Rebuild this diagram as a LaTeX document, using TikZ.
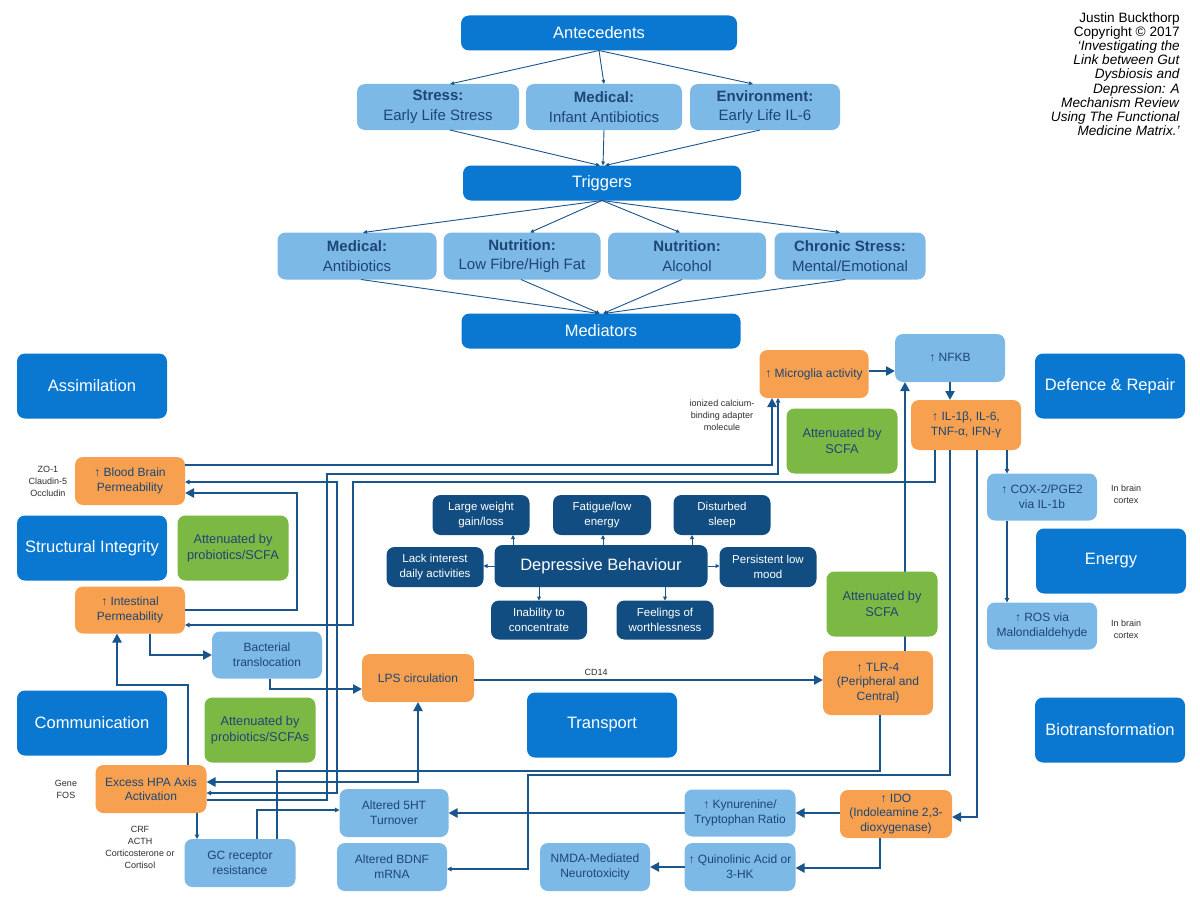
\documentclass[tikz,border=0pt]{standalone}
\usepackage{fontspec}
\setmainfont{Liberation Sans}
\usetikzlibrary{arrows.meta}
\definecolor{catblue}{RGB}{10,120,208}
\definecolor{navyfill}{RGB}{17,77,128}
\definecolor{lbluefill}{RGB}{125,185,230}
\definecolor{orngfill}{RGB}{246,160,80}
\definecolor{greenfill}{RGB}{124,185,68}
\definecolor{txtblue}{RGB}{30,70,115}
\definecolor{linecol}{RGB}{26,86,140}
\definecolor{notegray}{RGB}{45,45,45}
\newcommand\myfs[2]{\fontsize{#1}{#2}\selectfont}
\begin{document}
\begin{tikzpicture}[x=1pt,y=-1pt,
  bx/.style={rounded corners=8pt, align=center, inner sep=1pt, outer sep=0pt},
  catbox/.style={bx, fill=catblue, text=white, font=\myfs{16.5}{19}, minimum width=150, minimum height=65},
  topbox/.style={bx, fill=catblue, text=white, font=\myfs{16.5}{19}, minimum height=35},
  antebox/.style={bx, fill=lbluefill, text=txtblue, font=\myfs{15}{19.5}, minimum height=46},
  ornbox/.style={bx, fill=orngfill, text=txtblue, font=\myfs{12}{14.5}, minimum width=110, minimum height=48},
  lblbox/.style={bx, fill=lbluefill, text=txtblue, font=\myfs{12}{15}, minimum width=110, minimum height=48},
  grnbox/.style={bx, fill=greenfill, text=txtblue, font=\myfs{12.8}{16}, minimum width=111, minimum height=65},
  depbox/.style={bx, fill=navyfill, text=white, font=\myfs{11.5}{14.5}, minimum width=97, minimum height=40},
  notetxt/.style={align=center, font=\myfs{9}{12}, text=notegray, inner sep=0pt},
  thk/.style={draw=linecol, line width=2.6pt, -{Triangle[length=9pt,width=9pt]}},
  thkboth/.style={draw=linecol, line width=2.6pt, {Triangle[length=9pt,width=9pt]}-{Triangle[length=9pt,width=9pt]}},
  thn/.style={draw=linecol, line width=1.1pt, -{Triangle[length=4.5pt,width=4.5pt]}},
  thnboth/.style={draw=linecol, line width=1.1pt, {Triangle[length=4.5pt,width=4.5pt]}-{Triangle[length=4.5pt,width=4.5pt]}},
  thnplain/.style={draw=linecol, line width=1.1pt},
  toparr/.style={draw=linecol, line width=0.9pt, -{Triangle[length=4pt,width=3.5pt]}},
  deparr/.style={draw=linecol, line width=1pt, -{Triangle[length=4pt,width=4pt]}}
]
\useasboundingbox (0,0) rectangle (1200,899);
\fill[white] (0,0) rectangle (1200,899);

% ---------- top hierarchy ----------
\node[topbox, minimum width=276] (ant) at (599,33) {Antecedents};
\node[antebox, minimum width=162] (stress) at (438,107) {\textbf{Stress:}\\Early Life Stress};
\node[antebox, minimum width=156] (medinf) at (604,107) {\textbf{Medical:}\\Infant Antibiotics};
\node[antebox, minimum width=150] (env) at (765,107) {\textbf{Environment:}\\Early Life IL-6};
\node[topbox, minimum width=278] (trig) at (602,183) {Triggers};
\node[antebox, minimum width=159, minimum height=47] (med2) at (357,256) {\textbf{Medical:}\\Antibiotics};
\node[antebox, minimum width=157, minimum height=47] (nutlf) at (522,256) {\textbf{Nutrition:}\\Low Fibre/High Fat};
\node[antebox, minimum width=158, minimum height=47] (nutal) at (687,256) {\textbf{Nutrition:}\\Alcohol};
\node[antebox, minimum width=151, minimum height=47] (chron) at (850,256) {\textbf{Chronic Stress:}\\Mental/Emotional};
\node[topbox, minimum width=279] (medi) at (601,331) {Mediators};

\draw[toparr] (ant.south) -- (stress.north -| 450,0);
\draw[toparr] (ant.south) -- (medinf.north);
\draw[toparr] (ant.south) -- (env.north -| 753,0);
\draw[toparr] (stress.south -| 450,0) -- (trig.north -| 600,0);
\draw[toparr] (medinf.south) -- (trig.north -| 603,0);
\draw[toparr] (env.south -| 760,0) -- (trig.north -| 605,0);
\draw[toparr] (trig.south) -- (med2.north -| 363,0);
\draw[toparr] (trig.south) -- (nutlf.north -| 530,0);
\draw[toparr] (trig.south) -- (nutal.north -| 680,0);
\draw[toparr] (trig.south) -- (chron.north -| 840,0);
\draw[toparr] (med2.south -| 361,0) -- (medi.north -| 599,0);
\draw[toparr] (nutlf.south -| 521,0) -- (medi.north -| 600,0);
\draw[toparr] (nutal.south -| 682,0) -- (medi.north -| 603,0);
\draw[toparr] (chron.south -| 845,0) -- (medi.north -| 604,0);

% ---------- copyright ----------
\node[anchor=north east, align=right, font=\myfs{13.6}{14.2}, inner sep=0pt] (copy) at (1180,12)
 {Justin Buckthorp\\Copyright © 2017\\\textit{‘Investigating the}\\\textit{Link between Gut}\\\textit{Dysbiosis and}\\\textit{Depression: A}\\\textit{Mechanism Review}\\\textit{Using The Functional}\\\textit{Medicine Matrix.’}};

% ---------- category boxes ----------
\node[catbox] (assim) at (92,386) {Assimilation};
\node[catbox] (defr) at (1110,386) {Defence \& Repair};
\node[catbox] (struct) at (92,548) {Structural Integrity};
\node[catbox] (energy) at (1111,561) {Energy};
\node[catbox] (comm) at (92,723) {Communication};
\node[catbox] (transp) at (602,725) {Transport};
\node[catbox] (biot) at (1110,730) {Biotransformation};

% ---------- orange ----------
\node[ornbox] (bbp) at (130,481) {↑ Blood Brain\\Permeability};
\node[ornbox, minimum height=47] (ip) at (130,610) {↑ Intestinal\\Permeability};
\node[ornbox, minimum width=111] (hpa) at (151,789) {Excess HPA Axis\\Activation};
\node[ornbox, minimum width=112] (lps) at (418,678) {LPS circulation};
\node[ornbox, minimum width=109] (micro) at (814,374) {↑ Microglia activity};
\node[ornbox, minimum height=50] (il) at (966,425) {↑ IL-1β, IL-6,\\TNF-α, IFN-γ};
\node[ornbox, minimum height=64] (tlr) at (878,683) {↑ TLR-4\\(Peripheral and\\Central)};
\node[ornbox, minimum width=112] (ido) at (896,814) {↑ IDO\\(Indoleamine 2,3-\\dioxygenase)};

% ---------- light blue ----------
\node[lblbox] (nfkb) at (950,358) {↑ NFKB};
\node[lblbox, minimum height=47] (bt) at (267,655) {Bacterial\\translocation};
\node[lblbox, minimum height=47] (cox) at (1042,497) {↑ COX-2/PGE2\\via IL-1b};
\node[lblbox, minimum height=47] (ros) at (1042,626) {↑ ROS via\\Malondialdehyde};
\node[lblbox, minimum width=109] (ht) at (394,813) {Altered 5HT\\Turnover};
\node[lblbox] (bdnf) at (392,867) {Altered BDNF\\mRNA};
\node[lblbox, minimum width=111] (gc) at (240,863) {GC receptor\\resistance};
\node[lblbox, minimum width=111, minimum height=47] (kyn) at (740,813) {↑ Kynurenine/\\Tryptophan Ratio};
\node[lblbox, minimum width=111] (quin) at (740,867) {↑ Quinolinic Acid or\\3-HK};
\node[lblbox] (nmda) at (595,867) {NMDA-Mediated\\Neurotoxicity};

% ---------- green ----------
\node[grnbox] (att1) at (233,548) {Attenuated by\\probiotics/SCFA};
\node[grnbox] (att2) at (260,730) {Attenuated by\\probiotics/SCFAs};
\node[grnbox] (att3) at (842,441) {Attenuated by\\SCFA};

% ---------- depressive behaviour ----------
\node[bx, fill=navyfill, text=white, font=\myfs{16.5}{19}, minimum width=213, minimum height=42] (db) at (601,566) {Depressive Behaviour};
\node[depbox] (dw) at (481,515) {Large weight\\gain/loss};
\node[depbox, minimum width=98] (df) at (602,515) {Fatigue/low\\energy};
\node[depbox] (ds) at (722,515) {Disturbed\\sleep};
\node[depbox] (dl) at (435,567) {Lack interest\\daily activities};
\node[depbox] (dp) at (768,567) {Persistent low\\mood};
\node[depbox, minimum width=96, minimum height=39] (di) at (539,620) {Inability to\\concentrate};
\node[depbox, minimum height=39] (dfw) at (665,620) {Feelings of\\worthlessness};
\draw[deparr] (db.north -| 513,0) -- (dw.south -| 513,0);
\draw[deparr] (db.north -| 603,0) -- (df.south -| 603,0);
\draw[deparr] (db.north -| 692,0) -- (ds.south -| 692,0);
\draw[deparr] (db.west) -- (dl.east |- db.west);
\draw[deparr] (db.east) -- (dp.west |- db.east);
\draw[deparr] (db.south -| 539,0) -- (di.north -| 539,0);
\draw[deparr] (db.south -| 665,0) -- (dfw.north -| 665,0);

% ---------- notes ----------
\node[notetxt] (zo) at (48,481) {ZO-1\\Claudin-5\\Occludin};
\node[notetxt] (gene) at (66,789) {Gene\\FOS};
\node[notetxt] (crf) at (140,847) {CRF\\ACTH\\Corticosterone or\\Cortisol};
\node[notetxt] (ion) at (722,415) {ionized calcium-\\binding adapter\\molecule};
\node[notetxt] (inb1) at (1126,494) {In brain\\cortex};
\node[notetxt] (inb2) at (1126,629) {In brain\\cortex};

% ---------- thin connectors ----------
\draw[thn] (il.south -| 1007,0) -- (cox.north -| 1007,0);
\draw[thn] (cox.south -| 1007,0) -- (ros.north -| 1007,0);
\draw[thn] (il.south -| 935,0) |- (353,482) |- (ip.east |- 0,625);
\draw[thnboth] (bbp.east |- 0,482) -| (337,793) -- (hpa.east |- 0,793);
\draw[thn] (hpa.east |- 0,800) -| (327,474) -| (micro.south -| 778,0);
\draw[thn] (hpa.south -| 197,0) -- (gc.north -| 197,0);
\draw[thn] (gc.north -| 257,0) |- (ht.west |- 0,810);
\draw[thnplain] (gc.north -| 277,0) |- (880,771) -- (tlr.south -| 880,0);
\draw[thn] (il.south -| 950,0) |- (528,775) |- (bdnf.east |- 0,869);

% ---------- thick connectors ----------
\draw[thk] (bbp.east |- 0,465) -| (micro.south -| 772,0);
\draw[thk] (ip.east |- 0,610) -- (297,610) |- (bbp.east |- 0,493);
\draw[thk] (ip.south -| 150,0) |- (bt.west);
\draw[thk] (hpa.north -| 188,0) -- (188,685) -| (ip.south -| 117,0);
\draw[thk] (bt.south -| 270,0) |- (lps.west |- 0,689);
\draw[thkboth] (lps.south) |- (hpa.east |- 0,782);
\draw[thk] (lps.east |- 0,680) -- node[pos=0.35, above=3pt, font=\myfs{9}{11}, text=notegray, inner sep=0pt] (cd) {CD14} (tlr.west |- 0,680);
\draw[thk] (tlr.north -| 905,0) -- (nfkb.south -| 905,0);
\draw[thk] (micro.east |- 0,371) -- (nfkb.west |- 0,371);
\draw[thk] (nfkb.south) -- (il.north -| nfkb.south);
\draw[thk] (il.south -| 977,0) |- (ido.east |- 0,817);
\draw[thk] (ido.west |- 0,813) -- (kyn.east |- 0,813);
\draw[thk] (kyn.west |- 0,813) -- (ht.east |- 0,813);
\draw[thk] (ido.south -| 880,0) |- (quin.east |- 0,868);
\draw[thk] (quin.west |- 0,867) -- (nmda.east |- 0,867);

% green box drawn over the TLR-4 -> NFKB line
\node[grnbox] (att4) at (882,604) {Attenuated by\\SCFA};
\end{tikzpicture}
\end{document}
